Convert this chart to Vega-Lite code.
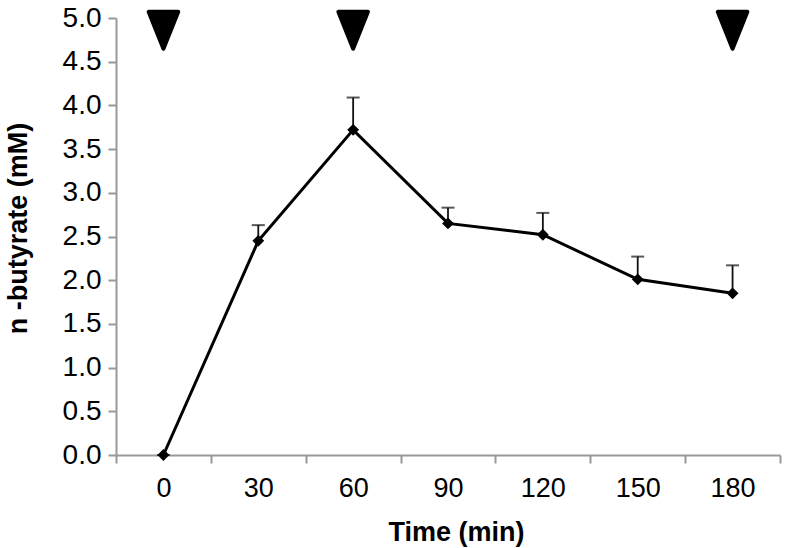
{
  "$schema": "https://vega.github.io/schema/vega-lite/v6.json",
  "width": 664,
  "height": 437,
  "autosize": {"type": "none"},
  "padding": {"left": 116, "top": 18, "right": 6, "bottom": 93},
  "background": "white",
  "config": {
    "view": {"stroke": null},
    "axis": {
      "domainColor": "#999999",
      "domainWidth": 2,
      "tickColor": "#999999",
      "tickWidth": 2,
      "tickSize": 8,
      "grid": false,
      "labelColor": "black",
      "labelFont": "Liberation Sans",
      "titleFont": "Liberation Sans",
      "titleColor": "black",
      "titleFontWeight": "bold"
    }
  },
  "datasets": {
    "points": [
      {"time": 0, "value": 0.0, "upper": 0.0},
      {"time": 30, "value": 2.45, "upper": 2.63},
      {"time": 60, "value": 3.72, "upper": 4.09},
      {"time": 90, "value": 2.65, "upper": 2.83},
      {"time": 120, "value": 2.52, "upper": 2.77},
      {"time": 150, "value": 2.01, "upper": 2.27},
      {"time": 180, "value": 1.85, "upper": 2.17}
    ],
    "markers": [
      {"time": 0, "value": 4.86},
      {"time": 60, "value": 4.86},
      {"time": 180, "value": 4.86}
    ]
  },
  "encoding": {
    "x": {
      "field": "time",
      "type": "ordinal",
      "scale": {"domain": [0, 30, 60, 90, 120, 150, 180], "paddingInner": 0, "paddingOuter": 0},
      "axis": {
        "title": "Time (min)",
        "labelAngle": 0,
        "labelFontSize": 27,
        "labelPadding": 12,
        "tickBand": "extent",
        "titleFontSize": 27,
        "titleX": 340,
        "titleY": 85,
        "titleBaseline": "alphabetic"
      }
    },
    "y": {
      "field": "value",
      "type": "quantitative",
      "scale": {"domain": [0, 5], "nice": false, "zero": true},
      "axis": {
        "title": "n -butyrate (mM)",
        "values": [0, 0.5, 1, 1.5, 2, 2.5, 3, 3.5, 4, 4.5, 5],
        "format": ".1f",
        "labelFontSize": 28,
        "labelPadding": 7,
        "titleFontSize": 27,
        "titleAngle": -90,
        "titleX": -98,
        "titleY": 210,
        "titleBaseline": "middle",
        "titleAlign": "center"
      }
    }
  },
  "layer": [
    {
      "data": {"name": "points"},
      "mark": {"type": "rule", "color": "#111111", "strokeWidth": 1.8},
      "encoding": {"y2": {"field": "upper"}}
    },
    {
      "data": {"name": "points"},
      "mark": {"type": "tick", "color": "#111111", "thickness": 2, "size": 13, "orient": "horizontal"},
      "encoding": {"y": {"field": "upper", "type": "quantitative"}}
    },
    {
      "data": {"name": "points"},
      "mark": {"type": "line", "color": "black", "strokeWidth": 3}
    },
    {
      "data": {"name": "points"},
      "mark": {"type": "point", "shape": "diamond", "filled": true, "color": "black", "size": 140, "opacity": 1}
    },
    {
      "data": {"name": "markers"},
      "mark": {
        "type": "point",
        "shape": "M-0.8,-1 L0.8,-1 L0,1 Z",
        "filled": true,
        "fill": "black",
        "stroke": "black",
        "strokeWidth": 4,
        "strokeJoin": "round",
        "size": 1369,
        "opacity": 1,
        "clip": false
      }
    }
  ]
}
